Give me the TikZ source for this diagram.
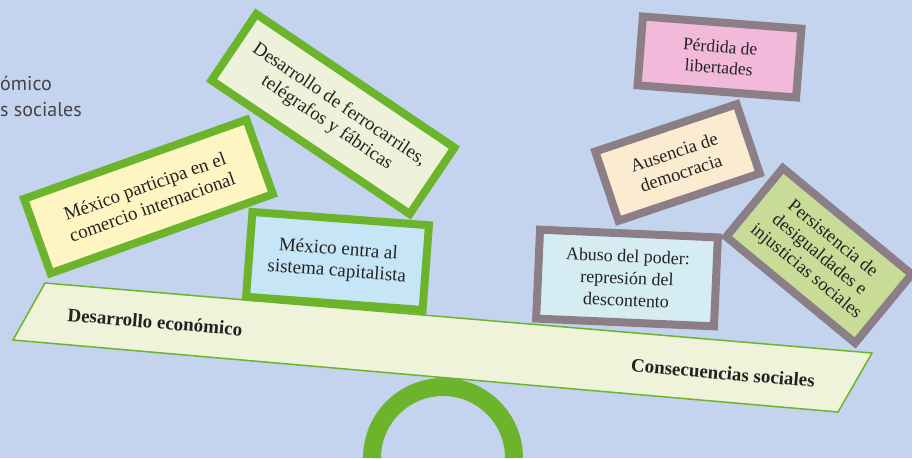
\documentclass[tikz,border=0pt]{standalone}
\usepackage{fontspec}
\setmainfont{Liberation Serif}
\newfontfamily\legendfont{PT Sans}
\definecolor{Sky}{HTML}{C4D3EE}
\definecolor{Leaf}{HTML}{6DB42D}
\definecolor{Mauve}{HTML}{8C7E87}
\definecolor{Ink}{HTML}{232323}
\definecolor{Straw}{HTML}{FEF5C2}
\definecolor{Ivory}{HTML}{EEF2DA}
\definecolor{Ice}{HTML}{C6E6F8}
\definecolor{Frost}{HTML}{D6ECF3}
\definecolor{Peach}{HTML}{FBEBD1}
\definecolor{Rose}{HTML}{F3B9DA}
\definecolor{Lime}{HTML}{C9DC97}
\definecolor{Plank}{HTML}{EEF3DA}
\tikzset{
  card/.style={
    line width=8pt, align=center, text=Ink, inner sep=2pt,
    font=\fontsize{19}{22}\selectfont
  },
  cause/.style={card, draw=Leaf},
  effect/.style={card, draw=Mauve},
  plank/.style={fill=Plank, draw=Leaf, line width=1.5pt},
  plabel/.style={text=Ink, rotate=-4.84, font=\fontsize{19}{22}\selectfont\bfseries},
  legend/.style={
    text=Ink!85, anchor=west, inner sep=0pt,
    font=\legendfont\fontsize{20}{24}\selectfont
  }
}

\begin{document}
\begin{tikzpicture}[x=1pt,y=-1pt]
    \useasboundingbox (0,0) rectangle (912,458);
    \clip (0,0) rectangle (912,458);
    \fill[Sky] (0,0) rectangle (912,458);
    \node[legend] (legA) at (0,83) {ómico};
    \node[legend] (legB) at (0,110) {s sociales};
    \draw[Leaf, line width=18pt] (372,458) arc[start angle=180, end angle=360, radius=71];
    \draw[plank] (45,283) -- (872,353) -- (838,412) -- (13,340) -- cycle;
    \node[plabel] (desarrollo) at (155,322) {Desarrollo económico};
    \node[plabel] (consec) at (723,373) {Consecuencias sociales};
    \node[cause, fill=Straw, minimum width=236pt, minimum height=79pt, rotate=19.6] (comercio) at (148.5,196.5) {México participa en el\\comercio internacional};
    \node[cause, fill=Ivory, minimum width=239pt, minimum height=80pt, rotate=-34] (ferro) at (333,114) {Desarrollo de ferrocarriles,\\telégrafos y fábricas};
    \node[cause, fill=Ice, minimum width=177pt, minimum height=85pt, rotate=-4.3] (capital) at (337.5,261) {México entra al\\sistema capitalista};
    \node[effect, fill=Frost, minimum width=178pt, minimum height=89pt, rotate=-2.5, font=\fontsize{18}{22}\selectfont] (abuso) at (627,278) {Abuso del poder:\\represión del\\descontento};
    \node[effect, fill=Peach, minimum width=149pt, minimum height=73pt, rotate=18.5, font=\fontsize{18.5}{22}\selectfont] (ausencia) at (677.5,162.5) {Ausencia de\\democracia};
    \node[effect, fill=Rose, minimum width=159pt, minimum height=69pt, rotate=-4.4, font=\fontsize{17.5}{21}\selectfont] (perdida) at (719.5,57) {Pérdida de\\libertades};
    \node[effect, fill=Lime, minimum width=167pt, minimum height=89pt, rotate=-39.5, font=\fontsize{18.5}{21}\selectfont] (persist) at (819,255.5) {Persistencia de\\desigualdades e\\injusticias sociales};
\end{tikzpicture}
\end{document}
